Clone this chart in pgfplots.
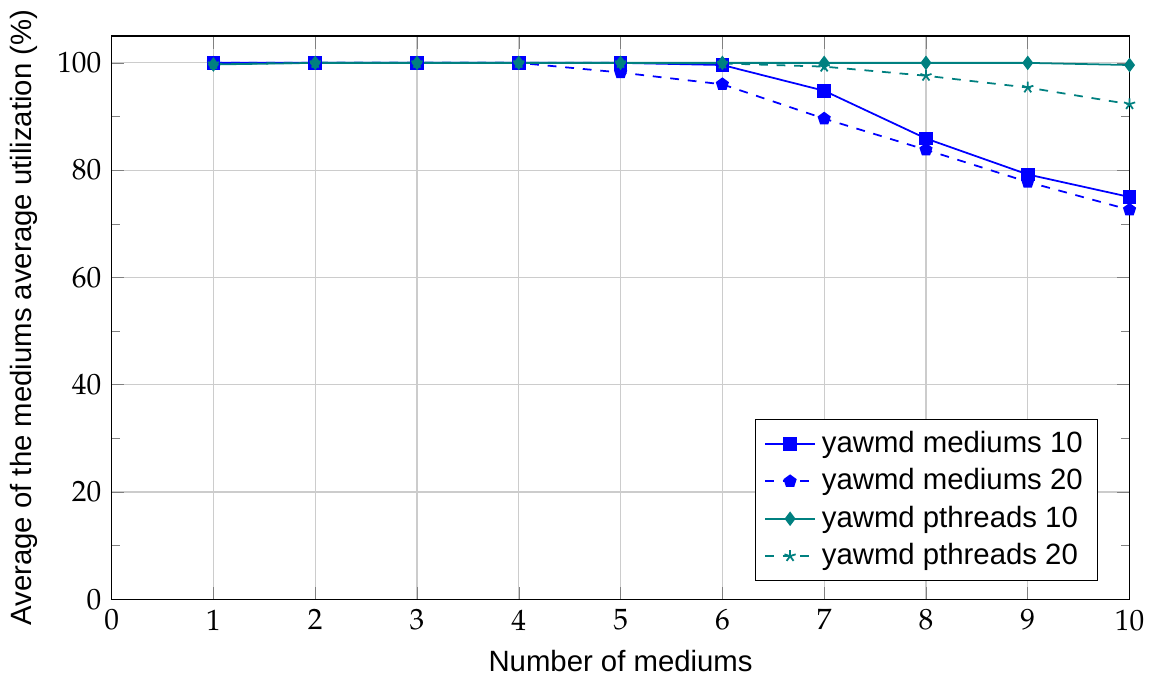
\documentclass[border=0pt]{standalone}
\usepackage{mathpazo}
\usepackage{fontspec}
\setmainfont{Liberation Sans}
\usepackage{pgfplots}
\pgfplotsset{compat=1.18}
\begin{document}
\begin{tikzpicture}
\begin{axis}[
  scale only axis,
  width=347pt, height=192pt,
  xmin=0, xmax=10, ymin=0, ymax=105,
  xtick={0,1,...,10},
  ytick={0,20,40,60,80,100},
  minor y tick num=1,
  grid=major,
  major grid style={gray!40},
  xlabel={Number of mediums},
  ylabel={Average of the mediums average utilization (\%)},
  legend style={at={(0.969,0.032)}, anchor=south east, font=\normalsize},
  legend cell align=left,
  every axis plot/.append style={semithick},
]
\addplot[blue, mark=square*] coordinates {
(1,100) (2,100) (3,100) (4,100) (5,100) (6,99.6) (7,94.8) (8,85.9) (9,79.2) (10,75.0)};
\addlegendentry{yawmd mediums 10}
\addplot[blue, dashed, mark=pentagon*, mark options={solid}] coordinates {
(1,100) (2,100) (3,100) (4,100) (5,98.2) (6,96.0) (7,89.6) (8,83.8) (9,77.8) (10,72.6)};
\addlegendentry{yawmd mediums 20}
\addplot[teal, mark=diamond*] coordinates {
(1,99.7) (2,100) (3,100) (4,100) (5,100) (6,100) (7,100) (8,100) (9,100) (10,99.6)};
\addlegendentry{yawmd pthreads 10}
\addplot[teal, dashed, mark=star, mark options={solid}] coordinates {
(1,99.8) (2,100) (3,100) (4,100) (5,100) (6,99.9) (7,99.3) (8,97.6) (9,95.4) (10,92.3)};
\addlegendentry{yawmd pthreads 20}
\end{axis}
\end{tikzpicture}
\end{document}
